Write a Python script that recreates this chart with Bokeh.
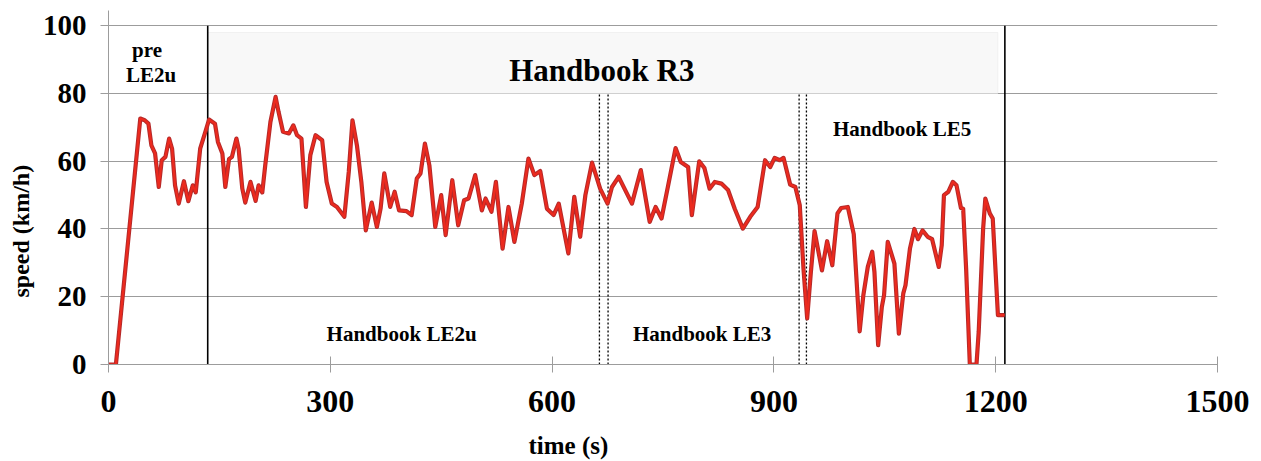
from bokeh.plotting import figure
from bokeh.models import Range1d, FixedTicker, Label, BoxAnnotation, Title
from bokeh.embed import file_html
from bokeh.resources import INLINE

# ---- data ----
time_s = [0, 10, 43, 49, 54, 58, 63, 68, 72, 77, 82, 86, 90, 95, 102, 108, 114, 118, 124, 131,
          136, 144, 148, 154, 158, 163, 167, 173, 176, 181, 185, 192, 199, 203, 208, 212, 219, 226,
          230, 236, 244, 250, 255, 261, 267, 273, 280, 289, 295, 302, 309, 319, 325, 330, 336, 342,
          348, 356, 363, 368, 373, 381, 387, 393, 403, 410, 417, 422, 428, 434, 442, 450, 456, 465,
          473, 481, 487, 496, 505, 510, 518, 524, 533, 541, 549, 559, 568, 576, 584, 593, 602, 609,
          622, 630, 638, 645, 654, 665, 675, 681, 690, 708, 720, 732, 740, 748, 757, 767, 774, 784,
          789, 799, 806, 813, 820, 829, 838, 847, 858, 868, 878, 888, 895, 901, 908, 913, 922, 929,
          935, 940, 945, 950, 955, 965, 972, 979, 986, 991, 1000, 1008, 1016, 1021, 1027, 1033, 1036,
          1041, 1046, 1049, 1054, 1063, 1069, 1075, 1078, 1084, 1090, 1095, 1101, 1108, 1114, 1123,
          1127, 1130, 1136, 1142, 1147, 1153, 1156, 1160, 1165, 1174, 1177, 1183, 1186, 1192, 1196,
          1203, 1212]
speed_kmh = [0, 0, 72.6, 72.1, 71.1, 64.7, 62.3, 52.4, 60.3, 61.3, 66.7, 63.7, 52.9, 47.5, 54.1, 48.2,
             52.9, 50.8, 63.7, 68.7, 72.3, 71.1, 65.7, 62.3, 52.4, 60.6, 61.3, 66.7, 63.7, 51.9, 47.8,
             53.9, 48.3, 52.9, 50.8, 58.8, 71.6, 79.0, 74.6, 68.7, 68.2, 70.6, 67.7, 66.7, 46.5, 61.8,
             67.7, 66.2, 53.9, 47.5, 46.5, 43.6, 56.9, 72.1, 64.7, 53.9, 39.6, 47.8, 40.6, 46.0, 56.4,
             46.5, 51.0, 45.5, 45.3, 44.1, 54.9, 56.4, 65.2, 58.8, 40.6, 50.0, 38.2, 54.4, 41.1, 48.5,
             49.0, 55.9, 45.5, 49.0, 45.1, 53.9, 34.2, 46.5, 36.2, 47.5, 60.8, 55.9, 57.1, 46.0, 44.1,
             47.5, 32.8, 49.5, 37.7, 50.0, 59.6, 51.9, 47.5, 52.4, 55.4, 47.5, 57.4, 42.1, 46.5, 43.1,
             52.9, 63.9, 59.8, 58.3, 44.1, 60.0, 58.0, 51.9, 53.9, 53.4, 51.5, 46.0, 40.1, 43.6, 46.5,
             60.3, 58.3, 61.0, 60.3, 61.0, 53.1, 52.4, 47.0, 28.3, 13.6, 27.3, 39.4, 27.8, 36.4, 29.3,
             44.6, 46.2, 46.5, 38.5, 9.8, 20.5, 28.8, 33.3, 27.3, 5.7, 17.0, 20.5, 36.2, 29.8, 9.1,
             21.0, 23.4, 34.2, 40.0, 37.0, 39.6, 37.7, 37.0, 28.8, 35.2, 50.0, 51.0, 53.9, 52.9, 46.2,
             46.0, 28.3, 0, 0, 9.6, 40.1, 49.0, 44.6, 43.1, 14.6, 14.6]

x_ticks = [0, 300, 600, 900, 1200, 1500]
y_ticks = [0, 20, 40, 60, 80, 100]

solid_bounds = [134.2, 1212.4]            # start / end of Handbook R3
dotted_bounds = [664, 675.7, 934.1, 944]  # phase transitions
r3_box = dict(left=134.2, right=1203, bottom=80, top=98)

FONT = "Liberation Serif"

p = figure(width=1261, height=461, output_backend="svg", toolbar_location=None,
           x_range=Range1d(0, 1500), y_range=Range1d(0, 104.5),
           min_border_left=108, min_border_right=44, min_border_top=10, min_border_bottom=97)
p.outline_line_color = None
p.background_fill_color = "white"
p.border_fill_color = "white"

# grid
p.xgrid.visible = False
p.ygrid.ticker = FixedTicker(ticks=y_ticks)
p.ygrid.grid_line_color = "#9c9c9c"
p.ygrid.grid_line_width = 1

# axes
for ax, ticks, fs in ((p.xaxis[0], x_ticks, "32px"), (p.yaxis[0], y_ticks, "29px")):
    ax.ticker = FixedTicker(ticks=ticks, minor_ticks=[])
    ax.axis_line_color = "#9c9c9c"
    ax.major_tick_line_color = "#9c9c9c"
    ax.major_tick_in = 8
    ax.major_tick_out = 8
    ax.minor_tick_line_color = None
    ax.major_label_text_font = FONT
    ax.major_label_text_font_style = "bold"
    ax.major_label_text_font_size = fs
    ax.major_label_text_color = "black"
p.xaxis.major_label_standoff = 18
p.yaxis.major_label_standoff = 14
# blank spacer below the x tick labels, pushes the time title down
p.xaxis.axis_label = " "
p.xaxis.axis_label_text_font_size = "9px"
p.xaxis.axis_label_standoff = 1

# axis titles as side titles (so they can be placed off-centre like the reference)
p.add_layout(Title(text="speed (km/h)", align="left", offset=67, text_font=FONT,
                   text_font_style="bold", text_font_size="24px", text_color="black",
                   standoff=11), "left")
p.add_layout(Title(text="time (s)", align="left", offset=420, text_font=FONT,
                   text_font_style="bold", text_font_size="25px", text_color="black",
                   standoff=2), "below")

# Handbook R3 box
p.add_layout(BoxAnnotation(left=r3_box["left"], right=r3_box["right"],
                           bottom=r3_box["bottom"], top=r3_box["top"],
                           fill_color="#f8f8f8", fill_alpha=1.0,
                           line_color="#dcdcdc", line_width=1, level="underlay"))

# phase boundaries
p.segment(x0=solid_bounds, x1=solid_bounds, y0=[0] * len(solid_bounds), y1=[100] * len(solid_bounds),
          line_color="black", line_width=1.6)
p.segment(x0=dotted_bounds, x1=dotted_bounds, y0=[0] * len(dotted_bounds), y1=[80] * len(dotted_bounds),
          line_color="black", line_width=1.3, line_dash="2 2")

# speed trace
p.line(time_s, speed_kmh, line_color="#b52a2a", line_width=4.2, line_join="round")
p.line(time_s, speed_kmh, line_color="#ec2a1e", line_width=2.2, line_join="round")

def lab(text, x, y, size):
    p.add_layout(Label(x=x, y=y, text=text, text_font=FONT, text_font_style="bold",
                       text_font_size=size, text_align="center", text_baseline="alphabetic",
                       text_color="black"))

lab("pre", 52.1, 92.8, "21px")
lab("LE2u", 57.5, 85.4, "21px")
lab("Handbook R3", 667.2, 86.9, "31px")
lab("Handbook LE5", 1073.4, 69.4, "21px")
lab("Handbook LE2u", 396.4, 8.95, "21px")
lab("Handbook LE3", 802.9, 8.95, "21px")

open("out.html", "w").write(file_html(p, INLINE))
